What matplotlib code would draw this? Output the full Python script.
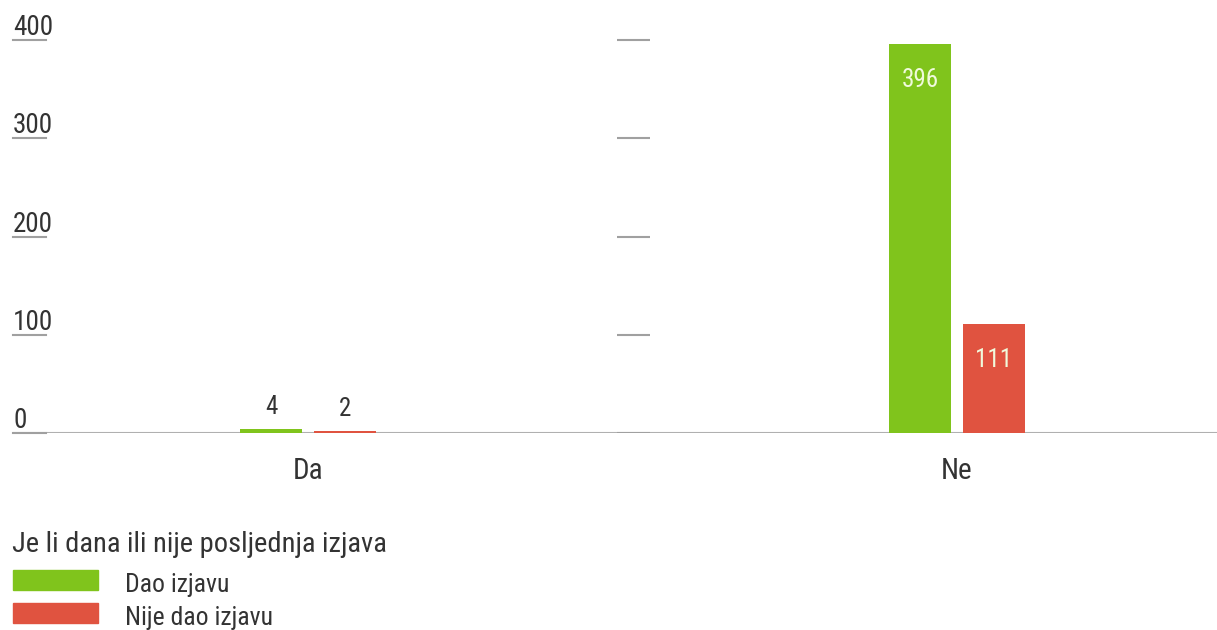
import matplotlib.pyplot as plt
from matplotlib import font_manager
import matplotlib.transforms as mtransforms

categories = ["Da", "Ne"]
series_names = ["Dao izjavu", "Nije dao izjavu"]
dao_izjavu = [4, 396]
nije_dao = [2, 111]
yticks = [0, 100, 200, 300, 400]
legend_title = "Je li dana ili nije posljednja izjava"

GREEN = "#80c41c"
RED = "#e05340"
TXT = "#333333"

names = {f.name for f in font_manager.fontManager.ttflist}
font = "DejaVu Sans"
for cand in ["Liberation Sans Narrow", "Roboto Condensed", "Archivo Narrow", "PT Sans Narrow"]:
    if cand in names:
        font = cand
        break
plt.rcParams["font.family"] = [font, "DejaVu Sans"]

W, H = 1217, 630
fig = plt.figure(figsize=(W / 100, H / 100), dpi=100)
# axes placed in pixel coords: left 13, right 1217, top 20, bottom 433
ax = fig.add_axes([13 / W, (H - 433) / H, (1217 - 13) / W, (433 - 20) / H])

x = list(range(len(categories)))
bw = 0.097
off = 0.057
ax.bar([i - off for i in x], dao_izjavu, width=bw, color=GREEN, label=series_names[0])
ax.bar([i + off for i in x], nije_dao, width=bw, color=RED, label=series_names[1])

ax.set_xlim((13 - 308) / 649, (1217 - 308) / 649)
ax.set_ylim(0, (433 - 20) / 0.9825)

for s in ax.spines.values():
    s.set_visible(False)
ax.set_yticks([])
ax.set_xticks(x)
ax.set_xticklabels(categories, fontsize=21, color=TXT)
ax.tick_params(axis="x", length=0, pad=17)

# baseline
ax.axhline(0, color="#b0b0b0", lw=1.5, zorder=0)

# y tick marks and labels on the left (axes-x, data-y)
trans = mtransforms.blended_transform_factory(ax.transAxes, ax.transData)
tick_len = 33 / (1217 - 13)
for t in yticks:
    ax.plot([0, tick_len], [t, t], transform=trans, color="#a0a0a0", lw=1.5, clip_on=False)
    ax.text(0, t + 5, str(t), transform=trans, fontsize=19.5, color=TXT,
            ha="left", va="baseline")

# short marks at the category boundary
ax.hlines(yticks, (617 - 308) / 649, (650 - 308) / 649, color="#a0a0a0", lw=1.5)

# value labels
for i, (g, r) in enumerate(zip(dao_izjavu, nije_dao)):
    for v, xo in ((g, i - off), (r, i + off)):
        if v > 50:
            ax.text(xo, v - 24, str(v), ha="center", va="top", fontsize=18, color="#f0fadc")
        else:
            ax.text(xo, v + 10, str(v), ha="center", va="bottom", fontsize=18, color=TXT)

# legend
fig.text(12 / W, 1 - 552 / H, legend_title, fontsize=20.5, color=TXT, ha="left", va="baseline")
for k, (name, col) in enumerate(zip(series_names, [GREEN, RED])):
    yc = 580 + 33 * k
    fig.patches.append(plt.Rectangle((13 / W, 1 - (yc + 10) / H), 85 / W, 20 / H,
                                     transform=fig.transFigure, color=col))
    fig.text(125 / W, 1 - (592 + 33 * k) / H, name, fontsize=18.5, color=TXT,
             ha="left", va="baseline")

fig.savefig("out.png", dpi=100)
